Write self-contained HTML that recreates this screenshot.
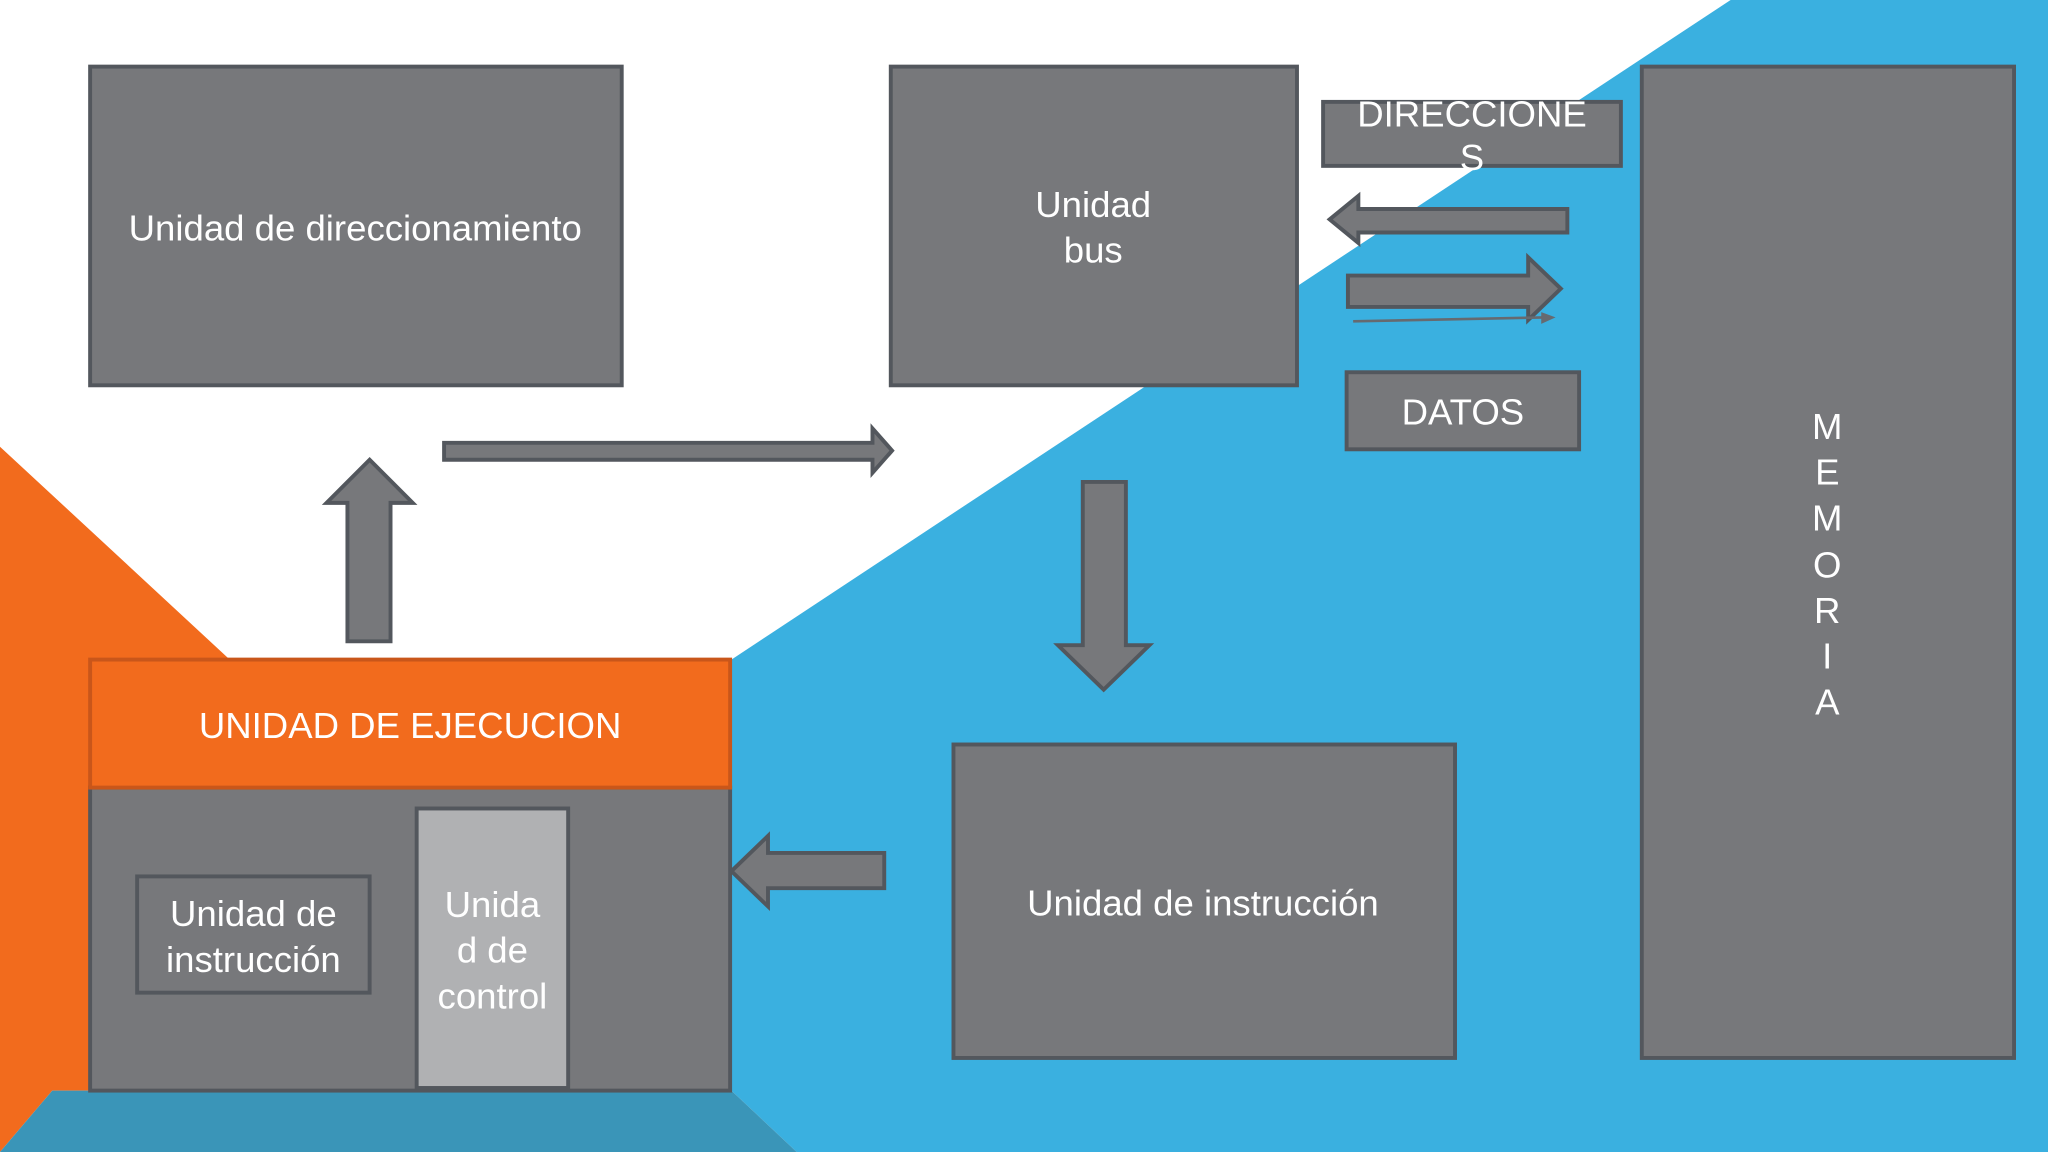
<!DOCTYPE html>
<html><head><meta charset="utf-8"><style>
html,body{margin:0;padding:0;background:#fff;overflow:hidden}
svg{display:block}
text{font-family:"Liberation Sans",sans-serif;fill:#fff;text-anchor:middle}
</style></head><body>
<svg width="2048" height="1152" viewBox="0 0 1568 882" xmlns="http://www.w3.org/2000/svg">
<rect width="1568" height="882" fill="#fff"/>
<polygon points="0,342 300,620 300,835 40,835 0,882" fill="#f26b1d"/>
<polygon points="1325,0 1568,0 1568,882 610,882 560,835 560,505" fill="#3ab0e0"/>
<polygon points="40,835 560,835 610,882 0,882" fill="#3a95b8"/>
<g stroke="#53575d" stroke-width="3" fill="#77787b">
<rect x="69" y="51" width="407" height="244"/>
<rect x="682" y="51" width="311" height="244"/>
<rect x="1013" y="78" width="228" height="49"/>
<rect x="1031" y="285" width="178" height="59"/>
<rect x="1257" y="51" width="285" height="759"/>
<rect x="730" y="570" width="384" height="240"/>
<rect x="69" y="603" width="490" height="232"/>
<rect x="105" y="671" width="178" height="89"/>
<rect x="319" y="619" width="116" height="214" fill="#b0b1b3"/>
<rect x="69" y="505" width="490" height="98" fill="#f26b1d" stroke="#c9561a"/>
<polygon points="1200,160 1040,160 1040,150 1018,168 1040,186 1040,178 1200,178"/>
<polygon points="1032,211 1170,211 1170,197 1195,221 1170,245 1170,235 1032,235"/>
<polygon points="340,339 668,339 668,328 683,345 668,362 668,352 340,352"/>
<polygon points="266,491 266,385 250,385 283,352 316,385 299,385 299,491"/>
<polygon points="829,369 862,369 862,494 880,494 845,528 810,494 829,494"/>
<polygon points="677,653 588,653 588,640 560,667 588,694 588,680 677,680"/>
</g>
<line x1="1036" y1="246" x2="1182" y2="243" stroke="#666a70" stroke-width="2"/>
<polygon points="1180,239 1191,243 1180,248" fill="#666a70"/>
<g font-size="28">
<text x="272" y="184">Unidad de direccionamiento</text>
<text x="837" y="166">Unidad</text>
<text x="837" y="201">bus</text>
<text x="1127" y="97">DIRECCIONE</text>
<text x="1127" y="130">S</text>
<text x="1120" y="325">DATOS</text>
<text x="921" y="701">Unidad de instrucción</text>
<text x="314" y="565">UNIDAD DE EJECUCION</text>
<text x="194" y="709">Unidad de</text>
<text x="194" y="744">instrucción</text>
<text x="377" y="702">Unida</text>
<text x="377" y="737">d de</text>
<text x="377" y="772">control</text>
<text x="1399" y="336">M</text>
<text x="1399" y="371">E</text>
<text x="1399" y="406">M</text>
<text x="1399" y="442">O</text>
<text x="1399" y="477">R</text>
<text x="1399" y="512">I</text>
<text x="1399" y="547">A</text>
</g>
</svg>
</body></html>
